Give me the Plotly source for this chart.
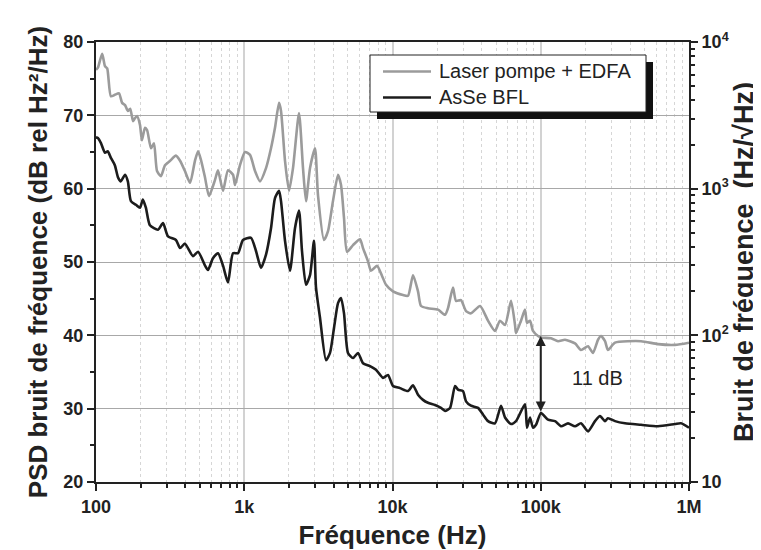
import plotly.graph_objects as go

# Laser pompe + EDFA (grey), frequency in Hz / PSD in dB
pump_freq = [100, 103, 110, 115, 119, 126, 134, 143, 150, 157, 164, 170, 178, 183, 189,
             198, 204, 214, 221, 235, 246, 258, 274, 292, 316, 346, 369, 398, 431, 465,
             488, 511, 544, 578, 635, 665, 719, 777, 840, 866, 936, 1012, 1094, 1182,
             1277, 1402, 1515, 1612, 1716, 1770, 1883, 2004, 2132, 2341, 2491, 2609,
             2777, 3001, 3144, 3451, 3672, 3967, 4290, 4495, 4709, 4933, 5415, 6037,
             6324, 6834, 7161, 7862, 8500, 9041, 10080, 11770, 12730, 13750, 14860,
             15570, 17360, 20280, 22610, 23680, 25590, 26820, 28980, 31320, 33850,
             38940, 44080, 49130, 53110, 57420, 63010, 67060, 68110, 73580, 78300,
             80780, 84630, 88660, 95830, 100400, 117300, 130800, 145700, 170200,
             186900, 208300, 225100, 243400, 254900, 271300, 284100, 316900, 474600,
             617900, 804600, 1000000]
pump_db = [76.2, 76.5, 78.4, 76.7, 76.4, 72.6, 72.8, 73.0, 71.7, 71.4, 70.6, 70.9, 69.2,
           69.6, 69.9, 68.7, 66.6, 68.3, 68.0, 65.5, 66.2, 62.4, 61.7, 63.2, 63.8, 64.5,
           63.8, 62.4, 60.8, 63.8, 65.1, 63.9, 61.5, 59.0, 61.2, 62.5, 59.7, 62.5, 61.9,
           60.5, 63.2, 65.0, 64.6, 62.4, 61.0, 62.8, 65.5, 68.3, 71.7, 70.6, 63.8, 59.7,
           62.8, 70.3, 62.8, 58.3, 62.8, 65.5, 59.1, 53.0, 54.2, 58.3, 61.9, 60.5, 56.0,
           51.4, 52.3, 53.1, 51.9, 50.1, 48.8, 49.5, 48.1, 46.9, 46.0, 45.5, 45.4, 48.2,
           46.0, 44.0, 43.7, 43.5, 42.8, 43.7, 46.5, 44.7, 44.8, 43.3, 43.0, 44.0, 42.0,
           40.6, 42.0, 41.4, 44.7, 41.4, 40.3, 42.0, 43.5, 41.7, 42.0, 40.6, 39.9, 39.7,
           39.6, 39.2, 39.4, 38.9, 38.0, 38.5, 37.6, 39.4, 39.9, 39.2, 38.0, 39.0, 39.2,
           38.8, 38.7, 39.0]

# AsSe BFL (black)
bfl_freq = [100, 103, 108, 115, 120, 126, 134, 141, 147, 157, 164, 172, 186, 198, 207,
            217, 231, 262, 283, 306, 346, 369, 398, 451, 488, 544, 569, 615, 665, 719,
            777, 840, 908, 981, 1111, 1200, 1297, 1402, 1515, 1612, 1716, 1770, 1883,
            2035, 2199, 2341, 2452, 2609, 2777, 2954, 3048, 3243, 3560, 3788, 4031,
            4290, 4495, 4709, 5008, 5415, 5852, 6324, 7050, 7738, 8630, 9324, 10080,
            11230, 12730, 13750, 14860, 16060, 17360, 19350, 21240, 22610, 24430,
            26410, 27660, 29890, 31320, 33850, 37740, 40780, 44080, 49130, 53950,
            57420, 63010, 68110, 78300, 80780, 84630, 88660, 92900, 100400, 111900,
            124800, 137000, 152700, 170200, 186900, 208300, 232300, 251000, 271300,
            284100, 316900, 370200, 474600, 617900, 804600, 883200, 1000000]
bfl_db = [67.0, 66.9, 66.2, 64.9, 65.1, 64.2, 63.2, 61.5, 61.0, 61.9, 61.0, 58.3, 57.8,
          57.4, 58.5, 57.4, 55.0, 54.4, 55.3, 53.5, 53.0, 51.9, 52.5, 50.8, 51.4, 49.5,
          48.9, 50.5, 51.2, 49.5, 47.2, 51.2, 51.2, 53.0, 53.3, 51.5, 49.2, 51.0, 54.6,
          58.7, 59.7, 58.3, 52.9, 48.8, 54.6, 57.0, 51.5, 46.9, 48.2, 52.9, 46.5, 42.4,
          36.6, 37.6, 41.0, 44.4, 45.1, 43.0, 37.6, 36.9, 37.6, 36.2, 35.8, 35.3, 34.2,
          34.6, 33.1, 32.8, 32.4, 33.2, 31.9, 31.2, 30.8, 30.5, 30.1, 29.7, 30.1, 33.1,
          32.6, 32.4, 31.0, 30.4, 30.1, 29.2, 28.3, 28.0, 30.4, 28.8, 27.9, 28.3, 30.6,
          27.4, 28.8, 27.4, 27.8, 29.4, 28.5, 28.3, 27.6, 28.0, 27.6, 28.0, 26.9, 28.3,
          29.0, 28.3, 28.7, 28.3, 28.0, 27.8, 27.6, 27.9, 28.0, 27.4]

x_tickvals = [1e2, 1e3, 1e4, 1e5, 1e6]
x_ticktext = ["100", "1k", "10k", "100k", "1M"]
y2_tickvals = [10, 100, 1000, 10000]
y2_ticktext = ["10", "10<sup>2</sup>", "10<sup>3</sup>", "10<sup>4</sup>"]
legend_names = ["Laser pompe + EDFA", "AsSe BFL"]

GREY = "#9b9b9b"
BLACK = "#1c1c1c"
INK = "#222222"
FONT = "Liberation Sans"

# plot area in pixels (used to place the hand-made legend)
L, R, T, B = 88, 681, 34, 474


def px(x):
    return (x - L) / (R - L)


def py(y):
    return 1 - (y - T) / (B - T)


fig = go.Figure()
fig.add_trace(go.Scatter(x=pump_freq, y=pump_db, name=legend_names[0], mode="lines",
                         line=dict(color=GREY, width=2.6, shape="spline", smoothing=0.6)))
fig.add_trace(go.Scatter(x=bfl_freq, y=bfl_db, name=legend_names[1], mode="lines",
                         line=dict(color=BLACK, width=2.6, shape="spline", smoothing=0.6)))
fig.add_trace(go.Scatter(x=[], y=[], yaxis="y2", showlegend=False))

axis_common = dict(
    showline=True, linecolor=INK, linewidth=2,
    ticks="outside", ticklen=7, tickwidth=2, tickcolor=INK,
    tickfont=dict(family=FONT, size=18, color=INK, weight="bold"),
    zeroline=False, automargin=False,
)

fig.update_layout(
    width=761, height=550,
    margin=dict(l=L, r=761 - R, t=T, b=550 - B),
    paper_bgcolor="white", plot_bgcolor="white",
    showlegend=False,
    font=dict(family=FONT, color=INK),
    xaxis=dict(
        type="log", range=[2, 6], mirror=True,
        tickvals=x_tickvals, ticktext=x_ticktext,
        showgrid=True, gridcolor="#d2d2d2", gridwidth=1.5,
        minor=dict(dtick="D1", ticks="outside", ticklen=4, tickwidth=1.5, tickcolor=INK,
                   showgrid=True, gridcolor="#d6d6d6", griddash="dot", gridwidth=1),
        title=dict(text="Fréquence (Hz)", standoff=10,
                   font=dict(family=FONT, size=26, color=INK, weight="bold")),
        **axis_common,
    ),
    yaxis=dict(
        range=[20, 80], dtick=10,
        showgrid=True, gridcolor="#a8a8a8", gridwidth=1.2,
        minor=dict(dtick=5, ticks="outside", ticklen=4, tickwidth=1.5, tickcolor=INK,
                   showgrid=False),
        title=dict(text="PSD bruit de fréquence (dB rel Hz²/Hz)", standoff=8,
                   font=dict(family=FONT, size=26, color=INK, weight="bold")),
        **axis_common,
    ),
    yaxis2=dict(
        type="log", range=[1, 4], overlaying="y", side="right",
        tickvals=y2_tickvals, ticktext=y2_ticktext, showgrid=False,
        minor=dict(dtick="D1", ticks="outside", ticklen=4, tickwidth=1.5, tickcolor=INK,
                   showgrid=False),
        title=dict(text="Bruit de fréquence\u00a0\u00a0(Hz/\u221aHz)", standoff=4,
                   font=dict(family=FONT, size=27, color=INK, weight="bold")),
        **axis_common,
    ),
)

# 11 dB gap marker at 100 kHz
fig.add_annotation(x=5, y=39.9, ax=5, ay=29.4, xref="x", yref="y", axref="x", ayref="y",
                   text="", showarrow=True, arrowhead=2, arrowside="end+start",
                   arrowsize=1, arrowwidth=2, arrowcolor=INK)
fig.add_annotation(x=5.38, y=34.2, xref="x", yref="y", text="11 dB", showarrow=False,
                   font=dict(family=FONT, size=20, color=INK))

# legend with drop shadow
fig.add_shape(type="rect", xref="paper", yref="paper", layer="above",
              x0=px(369), x1=px(645), y0=py(111), y1=py(54),
              fillcolor="#111111", line=dict(width=0))
fig.add_shape(type="rect", xref="paper", yref="paper", layer="above",
              x0=px(362), x1=px(638), y0=py(104), y1=py(47),
              fillcolor="white", line=dict(color=INK, width=1))
for name, color, yy in [(legend_names[0], GREY, 63.5), (legend_names[1], BLACK, 89.5)]:
    fig.add_shape(type="line", xref="paper", yref="paper", layer="above",
                  x0=px(375), x1=px(423), y0=py(yy), y1=py(yy),
                  line=dict(color=color, width=2.6))
    fig.add_annotation(x=px(429), y=py(yy), xref="paper", yref="paper", text=name,
                       showarrow=False, xanchor="left", yanchor="middle",
                       font=dict(family=FONT, size=20, color=INK))

fig.write_html("out.html")
